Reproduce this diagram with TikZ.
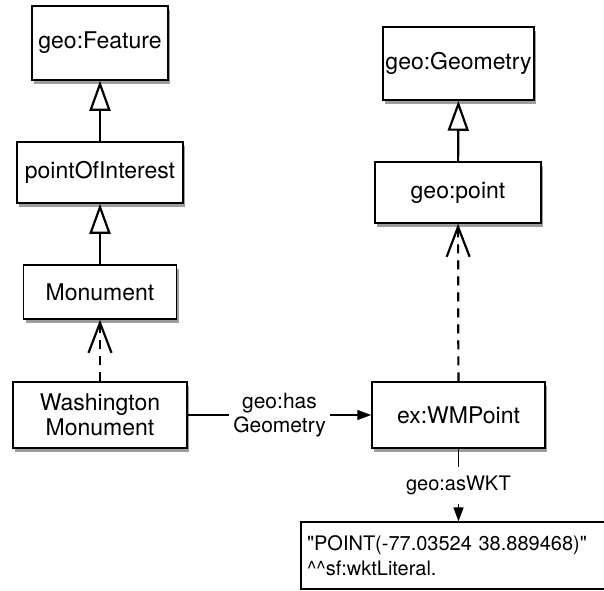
\documentclass[tikz,border=0pt]{standalone}
\usepackage{fontspec}
\setmainfont{TeX Gyre Heros}
\usetikzlibrary{arrows.meta,shadows}
\tikzset{
  cls/.style={draw,line width=1.5pt,fill=white,inner sep=0pt,align=center,
    font=\fontsize{23}{24.5}\selectfont,
    drop shadow={shadow xshift=2pt,shadow yshift=-3.5pt,fill=black!55,opacity=0.7}},
  gen/.style={line width=2.2pt,-{Triangle[open,fill=white,length=30pt,width=21pt]}},
  inst/.style={line width=2.2pt,dash pattern=on 9pt off 7pt,-{Straight Barb[length=30pt,width=23pt]}},
  rel/.style={line width=1.4pt,-{Triangle[length=14pt,width=10pt]}},
  lbl/.style={fill=white,align=center,font=\fontsize{21}{24}\selectfont,inner sep=4pt}
}
\begin{document}
\begin{tikzpicture}[x=1pt,y=-1pt]
\useasboundingbox (0,0) rectangle (604,590);
\node[cls,minimum width=136pt,minimum height=74pt] (feat) at (100,43) {geo:Feature};
\node[cls,minimum width=166pt,minimum height=61pt] (poi) at (100,172.5) {pointOfInterest};
\node[cls,minimum width=153pt,minimum height=54pt] (mon) at (100,292) {Monument};
\node[cls,minimum width=174pt,minimum height=66pt] (wash) at (100,415) {Washington\\Monument};
\node[cls,minimum width=151pt,minimum height=73pt] (geom) at (458.5,63.5) {geo:Geometry};
\node[cls,minimum width=166pt,minimum height=61pt] (gpt) at (458,192.5) {geo:point};
\node[cls,minimum width=173pt,minimum height=66pt] (wmp) at (458.5,415) {ex:WMPoint};
\node[draw,line width=1.3pt,fill=white,inner sep=6pt,text width=307pt,align=left,
  minimum height=67pt,font=\fontsize{20}{25}\selectfont] (lit) at (460.5,555.5)
  {\textquotedbl POINT(-77.03524 38.889468)\textquotedbl\\\^{}\^{}sf:wktLiteral.};
\path
  (poi) edge[gen] (feat)
  (mon) edge[gen] (poi)
  (wash) edge[inst] (mon)
  (gpt) edge[gen] (geom)
  (wmp) edge[inst] (gpt)
  (wash) edge[rel] node[lbl] {geo:has\\Geometry} (wmp)
;
\draw[rel] (wmp) -- node[lbl,font=\fontsize{20}{24}\selectfont,inner sep=9pt] {geo:asWKT} (wmp |- lit.north);
\end{tikzpicture}
\end{document}
